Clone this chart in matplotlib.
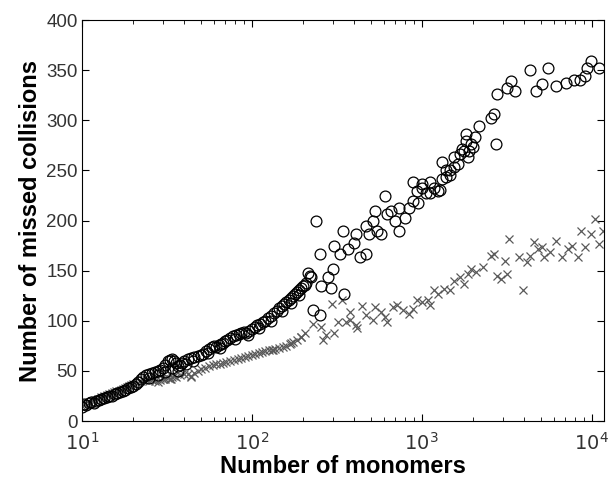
import matplotlib
matplotlib.use("Agg")
from matplotlib import pyplot as plt
from matplotlib.ticker import LogLocator, NullFormatter

plt.rcParams["mathtext.fontset"] = "custom"
plt.rcParams["mathtext.rm"] = "Liberation Sans"
plt.rcParams["mathtext.it"] = "Liberation Sans:italic"
plt.rcParams["mathtext.bf"] = "Liberation Sans:bold"

# circles: dense part (10 .. 220 monomers)
circ_x = [10, 10.3, 10.6, 11, 11.4, 11.8, 12.2, 12.6, 13, 13.5, 14, 14.5, 15, 15.6, 16.2, 16.8,
          17.4, 18, 18.7, 19.4, 20, 20.8, 21.5, 22.3, 23, 24, 25, 26, 27, 28, 29, 30, 31, 32,
          33, 34, 35, 36, 37, 38, 39, 40, 42, 44, 46, 48, 50, 52, 54, 56, 58, 60, 62, 64, 66,
          68, 70, 72, 75, 78, 81, 84, 87, 90, 93, 96, 100, 104, 108, 112, 116, 120, 125, 130,
          135, 140, 145, 150, 155, 160, 165, 170, 175, 180, 185, 190, 195, 200, 205, 210, 215,
          220,
          25, 28, 31, 34, 37, 41, 45, 55, 65, 80, 95, 110, 130, 150, 170, 190]
circ_y = [14, 17, 16, 18, 19, 18, 20, 21, 22, 23, 24, 25, 25, 27, 28, 29,
          30, 31, 33, 34, 35, 37, 39, 42, 44, 46, 47, 48, 49, 50, 51, 53, 56, 60,
          61, 62, 60, 58, 55, 56, 58, 60, 62, 63, 64, 65, 66, 67, 70, 72, 74, 75, 74, 76, 77,
          78, 80, 81, 83, 85, 86, 87, 88, 89, 88, 90, 92, 94, 96, 97, 99, 100, 103, 105,
          108, 110, 113, 115, 117, 119, 121, 123, 125, 127, 129, 131, 133, 135, 136, 138, 148,
          145,
          43, 46, 49, 53, 50, 57, 60, 68, 73, 82, 86, 93, 100, 110, 118, 126]

# circles: scattered part (above 220 monomers)
circ_x2 = [240, 251, 222, 228, 251, 254, 282, 294, 300, 349, 305, 343, 330, 368, 398, 409,
           432, 468, 493, 468, 520, 533, 545, 578, 609, 625, 661, 697, 734, 734, 794, 839,
           885, 885, 933, 956, 1010, 1066, 1125, 1186, 1284, 1320, 1320, 1390, 1466, 1546,
           1630, 1720, 1815, 1815, 1862, 1962, 2070, 2183, 2563, 2660, 2747, 2775, 3168,
           3340, 3520, 4360, 4720, 5110, 5540, 6170, 7050, 7840, 8480, 9180, 9440, 9960,
           11070,
           1010, 1125, 1240, 1390, 1466, 1546, 1675, 1765, 1910, 2015]
circ_y2 = [200, 167, 144, 111, 106, 135, 144, 133, 152, 127, 175, 190, 167, 172, 178, 187,
           164, 167, 187, 195, 200, 210, 190, 187, 225, 207, 210, 200, 190, 213, 203, 213,
           238, 220, 230, 218, 236, 228, 238, 233, 231, 241, 258, 250, 245, 263,
           256, 271, 279, 286, 263, 276, 283, 294, 302, 306, 276, 326, 332,
           339, 329, 350, 329, 336, 352, 334, 337, 340, 340, 344, 352, 359,
           352,
           233, 228, 230, 243, 250, 253, 266, 269, 269, 273]

# crosses
cross_x = [10, 10.5, 11, 11.5, 12, 12.5, 13, 13.5, 14, 14.5, 15, 15.5, 16, 16.5, 17, 17.5,
           18, 18.5, 19, 19.5, 20, 21, 22, 23, 24, 25, 26, 27, 28, 29, 30, 31, 32, 33, 34,
           35, 36, 38, 40, 42, 44, 46, 48, 50, 53, 56, 59, 62, 65, 68, 71, 75, 79, 83, 87,
           91, 95, 100, 105, 110, 115, 120, 126, 132, 138, 145, 152, 160, 168, 176, 185, 194,
           205, 33.6, 43.8, 134, 170, 196,
           228, 254, 261, 275, 297, 305, 320, 340, 358, 377, 377, 409, 417, 444, 468, 520,
           533, 578, 609, 625, 678, 715, 775, 839, 885, 933, 1010, 1090, 1125, 1186, 1240,
           1355, 1466, 1546, 1675, 1765, 1862, 1962, 2090, 2306, 2563, 2660, 2775, 2925,
           3090, 3168, 3260, 3720, 3920, 4140, 4360, 4600, 4850, 5110, 5240, 5690, 6170,
           6670, 7230, 7620, 8260, 8700, 9180, 9960, 10490, 11070, 11700]
cross_y = [15, 17, 18, 20, 21, 22, 24, 25, 26, 27, 28, 29, 30, 30, 31, 32,
           33, 34, 35, 36, 37, 38, 40, 41, 42, 40, 41, 40, 39, 41, 42, 42, 43, 42, 44,
           45, 44, 46, 47, 47, 44, 48, 50, 52, 53, 55, 56, 57, 57, 58, 59, 60, 61, 62, 63,
           64, 65, 66, 67, 68, 69, 70, 71, 71, 72, 73, 74, 75, 77, 79, 81, 84,
           88, 42, 45, 71, 78, 84,
           97, 94, 81, 86, 117, 88, 99, 121, 99, 109, 101, 96, 93, 115, 106, 101,
           114, 109, 104, 99, 114, 116, 111, 107, 112, 121, 119, 121, 116, 131, 127,
           132, 131, 140, 144, 137, 147, 152, 149, 154, 165, 167, 145, 142,
           160, 147, 182, 164, 131, 159, 165, 179, 172, 174, 164, 169, 180,
           164, 172, 175, 164, 190, 174, 187, 202, 177, 190]

fig = plt.figure(figsize=(6.1, 4.79), dpi=100)
ax = fig.add_axes([0.134, 0.121, 0.856, 0.837])

ax.plot(cross_x, cross_y, linestyle="none", marker="x", markersize=5.5,
        markeredgewidth=0.9, color="#5a5a5a")
ax.plot(circ_x + circ_x2, circ_y + circ_y2, linestyle="none", marker="o", markersize=7.8,
        markerfacecolor="none", markeredgecolor="black", markeredgewidth=0.9)

ax.set_xscale("log")
ax.set_xlim(10, 11800)
ax.set_ylim(0, 400)
ax.set_yticks(range(0, 401, 50))
ax.xaxis.set_minor_locator(LogLocator(base=10, subs=range(2, 10)))
ax.xaxis.set_minor_formatter(NullFormatter())

for lab in ax.get_yticklabels():
    lab.set_family("Liberation Sans")
    lab.set_fontsize(13.5)
    lab.set_color("#333333")
ax.tick_params(axis="x", labelsize=14, labelcolor="#333333", pad=8)
ax.tick_params(axis="y", pad=3)
ax.tick_params(which="both", direction="in", top=True, right=True)
ax.tick_params(which="major", length=5)
ax.tick_params(which="minor", length=3)

ax.set_xlabel("Number of monomers", fontsize=17, fontweight="bold",
              family="Liberation Sans", labelpad=1)
ax.set_ylabel("Number of missed collisions", fontsize=17, fontweight="bold",
              family="Liberation Sans", labelpad=3)

fig.savefig("out.png", dpi=100)
